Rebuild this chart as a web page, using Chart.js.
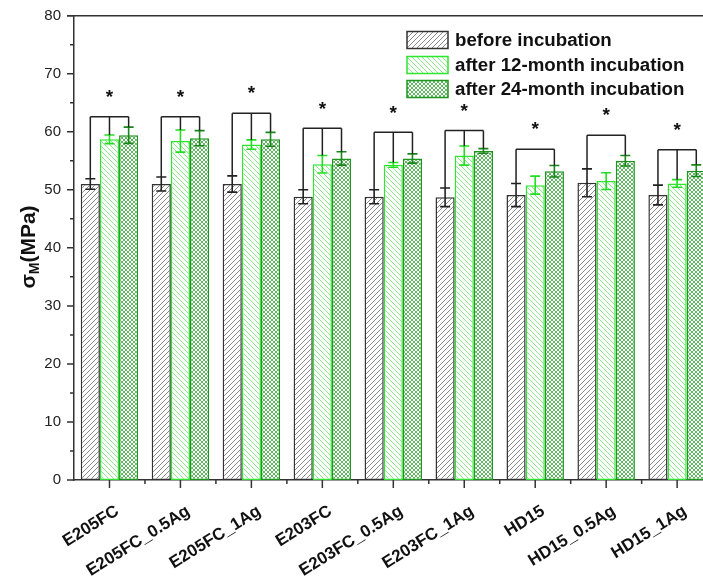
<!DOCTYPE html>
<html>
<head>
<meta charset="utf-8">
<script src="https://cdn.jsdelivr.net/npm/chart.js@4.4.1/dist/chart.umd.min.js"></script>
<style>
html,body{margin:0;padding:0;background:#fff;overflow:hidden;width:703px;height:588px;}
canvas{display:block;}
</style>
</head>
<body>
<canvas id="c" width="720" height="588"></canvas>
<script>
// ---- data ----
const categories = ['E205FC','E205FC_0.5Ag','E205FC_1Ag','E203FC','E203FC_0.5Ag','E203FC_1Ag','HD15','HD15_0.5Ag','HD15_1Ag'];
const seriesNames = ['before incubation','after 12-month incubation','after 24-month incubation'];
const before   = [51.0, 51.0, 51.0, 48.8, 48.8, 48.7, 49.1, 51.2, 49.1];
const beforeErr= [0.9, 1.2, 1.4, 1.2, 1.2, 1.6, 2.0, 2.4, 1.7];
const m12      = [58.7, 58.4, 57.8, 54.4, 54.3, 55.9, 50.8, 51.5, 51.1];
const m12Err   = [0.75, 1.9, 0.8, 1.5, 0.4, 1.65, 1.55, 1.45, 0.65];
const m24      = [59.4, 58.9, 58.7, 55.4, 55.4, 56.7, 53.2, 55.0, 53.3];
const m24Err   = [1.4, 1.3, 1.2, 1.15, 0.8, 0.4, 1.0, 0.9, 1.0];
const bracketTop  = [62.6, 62.6, 63.2, 60.6, 59.9, 60.2, 57.0, 59.4, 56.9];
const bracketLegs = [[0,1,2],[0,1,2],[0,1,2],[0,1,2],[0,1,2],[0,1,2],[0,2],[0,2],[0,1,2]];
const yTicks = [0,10,20,30,40,50,60,70,80];

// ---- styles ----
const FONT = '"Liberation Sans", Arial, sans-serif';
function makePattern(type, color, size){
  const c = document.createElement('canvas');
  c.width = size; c.height = size;
  const g = c.getContext('2d');
  g.fillStyle = '#fff'; g.fillRect(0,0,size,size);
  g.strokeStyle = color; g.lineWidth = 1;
  const fwd = () => { g.beginPath(); g.moveTo(-1,size+1); g.lineTo(size+1,-1);
    g.moveTo(-1,1); g.lineTo(1,-1); g.moveTo(size-1,size+1); g.lineTo(size+1,size-1); g.stroke(); };
  const bwd = () => { g.beginPath(); g.moveTo(-1,-1); g.lineTo(size+1,size+1);
    g.moveTo(size-1,-1); g.lineTo(size+1,1); g.moveTo(-1,size-1); g.lineTo(1,size+1); g.stroke(); };
  if (type === 'fwd') fwd();
  else if (type === 'bwd') bwd();
  else { fwd(); bwd(); }
  return g.createPattern(c, 'repeat');
}
const ctx0 = document.getElementById('c').getContext('2d');
const fills = [makePattern('fwd','#8a8a8a',5), makePattern('bwd','#8ee88e',5), makePattern('cross','#62b862',4)];
const borders = ['#333333','#2ee62e','#1f941f'];
const errColors = ['#222222','#22dd22','#1a851a'];
const errs = [beforeErr, m12Err, m24Err];

const decor = {
  id: 'decor',
  afterDatasetsDraw(chart){
    const c = chart.ctx, ys = chart.scales.y, xs = chart.scales.x;
    c.save();
    // error bars
    [0,1,2].forEach(d => {
      const meta = chart.getDatasetMeta(d);
      const vals = chart.data.datasets[d].data;
      c.strokeStyle = errColors[d]; c.lineWidth = 1.6;
      meta.data.forEach((bar,i) => {
        const top = ys.getPixelForValue(vals[i] + errs[d][i]);
        const bot = ys.getPixelForValue(vals[i] - errs[d][i]);
        c.beginPath();
        c.moveTo(bar.x, top); c.lineTo(bar.x, bot);
        c.moveTo(bar.x-5, top); c.lineTo(bar.x+5, top);
        c.moveTo(bar.x-5, bot); c.lineTo(bar.x+5, bot);
        c.stroke();
      });
    });
    // brackets and stars
    c.strokeStyle = '#222'; c.lineWidth = 1.5;
    c.fillStyle = '#111';
    c.font = 'bold 19px ' + FONT; c.textAlign = 'center'; c.textBaseline = 'middle';
    categories.forEach((cat,i) => {
      const legs = bracketLegs[i];
      const yTop = ys.getPixelForValue(bracketTop[i]);
      const xsLeg = legs.map(d => chart.getDatasetMeta(d).data[i].x);
      c.beginPath();
      c.moveTo(xsLeg[0], yTop); c.lineTo(xsLeg[xsLeg.length-1], yTop);
      legs.forEach((d,k) => {
        const v = chart.data.datasets[d].data[i] + errs[d][i];
        c.moveTo(xsLeg[k], yTop); c.lineTo(xsLeg[k], ys.getPixelForValue(v));
      });
      c.stroke();
      c.fillText('*', xs.getPixelForValue(i), yTop - 19);
    });
    c.restore();
  },
  afterDraw(chart){
    const c = chart.ctx, ys = chart.scales.y, xs = chart.scales.x, a = chart.chartArea;
    c.save();
    c.strokeStyle = '#333'; c.lineWidth = 1.5;
    // frame top + right
    c.beginPath();
    c.moveTo(a.left - 7, a.top); c.lineTo(a.right, a.top); c.lineTo(a.right, a.bottom);
    c.stroke();
    // y ticks
    c.beginPath();
    for (let v = 0; v <= 80; v += 5) {
      const y = ys.getPixelForValue(v);
      const len = (v % 10 === 0) ? 7 : 4;
      c.moveTo(a.left - len, y); c.lineTo(a.left, y);
    }
    // x ticks
    for (let i = 0; i < categories.length; i++) {
      const x = xs.getPixelForValue(i);
      c.moveTo(x, a.bottom); c.lineTo(x, a.bottom + 8);
      const xb = xs.getPixelForValue(i + 0.5);
      c.moveTo(xb, a.bottom); c.lineTo(xb, a.bottom + 4);
    }
    c.stroke();
    // y title with subscript
    c.translate(29, 247);
    c.rotate(-Math.PI/2);
    c.fillStyle = '#111';
    c.textBaseline = 'middle';
    const p1 = 'σ', p2 = 'M', p3 = '(MPa)';
    c.font = 'bold 21px ' + FONT; const w1 = c.measureText(p1).width; const w3 = c.measureText(p3).width;
    c.font = 'bold 14px ' + FONT; const w2 = c.measureText(p2).width;
    let x0 = -(w1 + w2 + w3) / 2;
    c.font = 'bold 21px ' + FONT; c.textAlign = 'left';
    c.fillText(p1, x0, 0);
    c.font = 'bold 14px ' + FONT; c.fillText(p2, x0 + w1, 6);
    c.font = 'bold 21px ' + FONT; c.fillText(p3, x0 + w1 + w2, 0);
    c.setTransform(1,0,0,1,0,0);
    // legend
    const ly = [40, 65, 89];
    chart.data.datasets.forEach((ds, d) => {
      c.fillStyle = ds.backgroundColor;
      c.fillRect(407, ly[d] - 8.5, 41, 17);
      c.strokeStyle = ds.borderColor; c.lineWidth = 1.5;
      c.strokeRect(407, ly[d] - 8.5, 41, 17);
      c.fillStyle = '#111';
      c.font = 'bold 18.7px ' + FONT; c.textAlign = 'left'; c.textBaseline = 'middle';
      c.fillText(ds.label, 455, ly[d] + 1);
    });
    c.restore();
  }
};

new Chart(ctx0, {
  type: 'bar',
  data: {
    labels: categories,
    datasets: [
      { label: seriesNames[0], data: before, backgroundColor: fills[0], borderColor: borders[0], borderWidth: 1.5, borderSkipped: false },
      { label: seriesNames[1], data: m12,    backgroundColor: fills[1], borderColor: borders[1], borderWidth: 1.5, borderSkipped: false },
      { label: seriesNames[2], data: m24,    backgroundColor: fills[2], borderColor: borders[2], borderWidth: 1.5, borderSkipped: false }
    ]
  },
  options: {
    responsive: false,
    animation: false,
    events: [],
    layout: { padding: { top: 15.7, right: 7.4, left: 0, bottom: 0 } },
    datasets: { bar: { categoryPercentage: 0.81, barPercentage: 1.0 } },
    plugins: { legend: { display: false }, tooltip: { enabled: false } },
    scales: {
      x: {
        offset: true,
        grid: { display: false, drawTicks: false },
        border: { display: true, color: '#333', width: 1.5 },
        ticks: { color: '#111', font: { family: FONT, size: 17, weight: 'bold' }, minRotation: 32, maxRotation: 32, padding: 21, labelOffset: 8, autoSkip: false },
        afterFit: s => { s.height = 108; s.paddingLeft = 0; s.paddingRight = 0; }
      },
      y: {
        min: 0, max: 80,
        grid: { display: false, drawTicks: false },
        border: { display: true, color: '#333', width: 1.5 },
        ticks: { stepSize: 10, color: '#222', font: { family: FONT, size: 15 }, padding: 13,
                 callback: v => yTicks.includes(v) ? String(v) : '' },
        afterFit: s => { s.width = 74; s.paddingTop = 0; s.paddingBottom = 0; }
      }
    }
  },
  plugins: [decor]
});
</script>
</body>
</html>
